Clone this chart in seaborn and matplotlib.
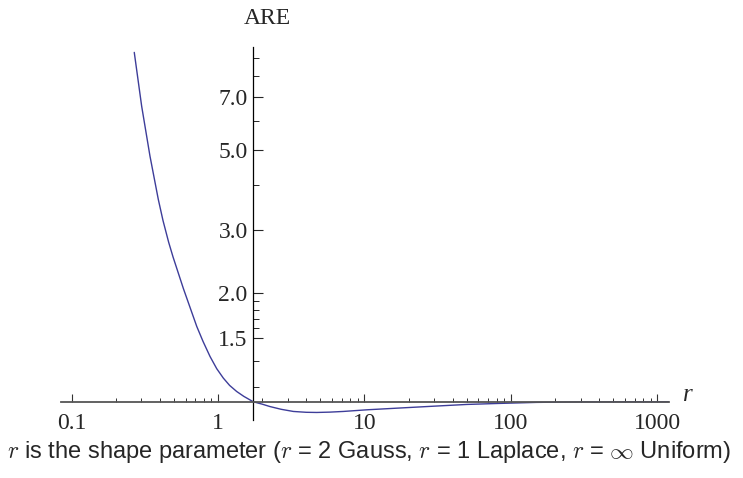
import numpy as np
import pandas as pd
import matplotlib
matplotlib.use("Agg")
import matplotlib.pyplot as plt
import matplotlib.ticker as mticker
import seaborn as sns

# values
r_vals = [0.268, 0.301, 0.343, 0.391, 0.421, 0.46, 0.493, 0.58, 0.716, 0.79, 0.882,
          0.98, 1.087, 1.2, 1.34, 1.5, 1.74, 2.0, 2.26, 2.7, 3.27, 4.0, 4.72, 5.8,
          7.16, 10.4, 17.5, 29.5, 49.9, 80, 150, 300, 600, 1200]
are_vals = [9.3, 6.6, 4.8, 3.64, 3.18, 2.77, 2.52, 2.06, 1.617, 1.47, 1.335,
            1.235, 1.163, 1.11, 1.068, 1.035, 1.0, 0.985, 0.970, 0.953, 0.940, 0.935, 0.934, 0.936,
            0.940, 0.950, 0.961, 0.972, 0.983, 0.989, 0.996, 0.999, 1.0, 1.0]

x_major = [0.1, 1, 10, 100, 1000]
x_labels = ["0.1", "1", "10", "100", "1000"]
y_major = [1.5, 2.0, 3.0, 5.0, 7.0]
y_labels = ["1.5", "2.0", "3.0", "5.0", "7.0"]
y_minor = [1.1, 1.3, 1.6, 1.7, 1.8, 1.9, 4, 6, 8, 9]

df = pd.DataFrame({"r": r_vals, "ARE": are_vals})

sns.set_style("white")
plt.rcParams["font.family"] = ["Liberation Serif", "DejaVu Serif"]
plt.rcParams["mathtext.fontset"] = "cm"

fig = plt.figure(figsize=(7.43, 4.78), dpi=100)
ax = fig.add_axes([0.0824, 0.1213, 0.818, 0.7795])

sns.lineplot(data=df, x="r", y="ARE", ax=ax, color="#3d3d99", linewidth=1.0)

ax.set_xscale("log")
ax.set_yscale("log")
ax.set_xlim(0.085, 1200)
ax.set_ylim(0.89, 9.6)

# Mathematica-style axes crossing at (1.74, 1)
for s in ["top", "right"]:
    ax.spines[s].set_visible(False)
ax.spines["left"].set_position(("data", 1.74))
ax.spines["bottom"].set_position(("data", 1.0))
ax.spines["left"].set_color("black")
ax.spines["left"].set_linewidth(0.9)
ax.spines["bottom"].set_color("#555555")
ax.spines["bottom"].set_linewidth(1.3)

ax.xaxis.set_major_locator(mticker.FixedLocator(x_major))
ax.xaxis.set_major_formatter(mticker.FixedFormatter(x_labels))
x_minor = [m * d for d in [0.1, 1, 10, 100] for m in range(2, 10)]
ax.xaxis.set_minor_locator(mticker.FixedLocator(x_minor))
ax.xaxis.set_minor_formatter(mticker.NullFormatter())

ax.yaxis.set_major_locator(mticker.FixedLocator(y_major))
ax.yaxis.set_major_formatter(mticker.FixedFormatter(y_labels))
ax.yaxis.set_minor_locator(mticker.FixedLocator(y_minor))
ax.yaxis.set_minor_formatter(mticker.NullFormatter())

ax.tick_params(axis="both", which="both", direction="in", labelsize=17,
               bottom=True, left=True)
ax.tick_params(axis="x", which="major", length=6, width=0.8, color="#333333", pad=8)
ax.tick_params(axis="x", which="minor", length=3, width=0.7, color="#333333")
ax.tick_params(axis="y", which="major", length=7, width=0.8, pad=4)
ax.tick_params(axis="y", which="minor", length=4, width=0.7)

ax.set_xlabel("")
ax.set_ylabel("")
ax.patch.set_alpha(0)

fig.text(267 / 743, 1 - 18 / 478, "ARE", ha="center", va="center", fontsize=17)
fig.text(688 / 743, 1 - 395 / 478, "r", ha="center", va="center", fontsize=18, style="italic")
fig.text(0.497, 0.054,
         r"$r$ is the shape parameter ($r$ = 2 Gauss, $r$ = 1 Laplace, $r$ = $\infty$ Uniform)",
         ha="center", va="center", fontsize=17, family=["Liberation Sans", "DejaVu Sans"])

fig.savefig("out.png", dpi=100)
